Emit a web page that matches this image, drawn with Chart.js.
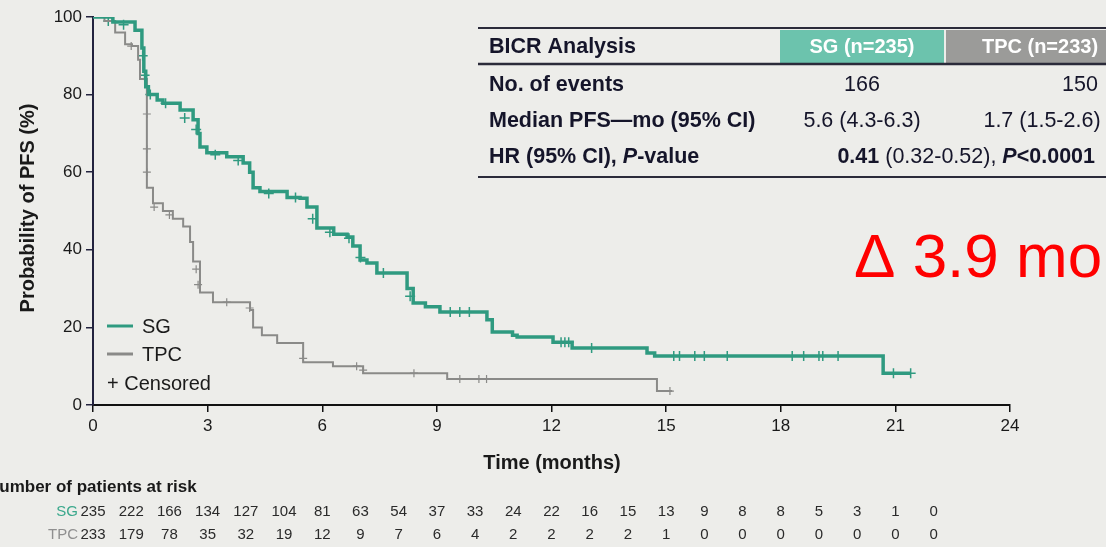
<!DOCTYPE html>
<html>
<head>
<meta charset="utf-8">
<script src="https://cdn.jsdelivr.net/npm/chart.js@4.4.1/dist/chart.umd.min.js"></script>
<style>
  html, body { margin: 0; padding: 0; background: #ededea; }
  #wrap { width: 1106px; height: 547px; position: relative; }
</style>
</head>
<body>
<div id="wrap"><canvas id="km"></canvas></div>
<script>
// KM step points (time in months, PFS %)
const sgTimes = [0, 0.52, 1.1, 1.28, 1.33, 1.38, 1.45, 1.68, 1.83, 2.28, 2.62, 2.75, 2.8, 2.98, 3.5, 3.93, 4.1, 4.19, 4.37, 5.08, 5.42, 5.6, 5.86, 6.3, 6.65, 6.8, 6.99, 7.17, 7.43, 8.22, 8.38, 8.7, 9.08, 10.31, 10.45, 10.98, 11.1, 12.04, 12.54, 14.5, 14.7, 20.68, 21.4];
const sgSurv  = [100, 98.7, 96.6, 92, 86, 82, 80, 78.6, 77.8, 76, 73.5, 70, 66.5, 65, 64, 62.4, 60, 56, 55, 53.5, 53.3, 51, 45.6, 44, 43.3, 41, 37.4, 36.6, 34, 30, 26.3, 25.3, 24, 22, 18.8, 18, 17.5, 16.2, 14.7, 13.4, 12.6, 8.2, 8.2];

const tpcTimes = [0, 0.3, 0.58, 0.84, 1.02, 1.18, 1.23, 1.41, 1.57, 1.83, 2.09, 2.36, 2.54, 2.62, 2.8, 3.14, 4.11, 4.19, 4.42, 4.82, 5.5, 6.28, 7.07, 9.27, 14.76, 15.16];
const tpcSurv  = [100, 99, 96, 93, 92.5, 89, 84, 56, 52, 50, 48, 46, 42, 37, 29, 26.5, 24.5, 20, 18, 16, 11, 10, 8.2, 6.7, 3.6, 3.6];

// censored marks
const sgCensorT = [0.4, 0.8, 1.3, 1.35, 1.5, 1.9, 2.4, 2.7, 3.2, 3.8, 4.6, 5.3, 5.75, 6.2, 6.7, 7.0, 7.6, 8.3, 9.35, 9.6, 9.85, 12.25, 12.35, 12.45, 13.05, 15.2, 15.35, 15.75, 16.0, 16.6, 18.3, 18.6, 19.0, 19.1, 19.5, 20.95, 21.4];
const sgCensorS = [99, 98, 90, 85, 80, 77.8, 74, 71, 64.5, 63, 54.5, 53.5, 48, 44.5, 43, 38, 34, 28, 24, 24, 24, 16.2, 16.2, 16.2, 14.7, 12.6, 12.6, 12.6, 12.6, 12.6, 12.6, 12.6, 12.6, 12.6, 12.6, 8.2, 8.2];
const tpcCensorT = [1.0, 1.41, 1.41, 1.41, 1.6, 2.0, 2.7, 2.75, 3.5, 4.1, 5.5, 6.9, 7.07, 8.4, 9.6, 10.1, 10.3, 15.1];
const tpcCensorS = [92.5, 75, 66, 60, 51, 49, 35, 31, 26.5, 25, 12, 10, 9, 8.2, 6.7, 6.7, 6.7, 3.6];

// number at risk, every month 0..22
const riskMonths = [0, 1, 2, 3, 4, 5, 6, 7, 8, 9, 10, 11, 12, 13, 14, 15, 16, 17, 18, 19, 20, 21, 22];
const sgAtRisk  = [235, 222, 166, 134, 127, 104, 81, 63, 54, 37, 33, 24, 22, 16, 15, 13, 9, 8, 8, 5, 3, 1, 0];
const tpcAtRisk = [233, 179, 78, 35, 32, 19, 12, 9, 7, 6, 4, 2, 2, 2, 2, 1, 0, 0, 0, 0, 0, 0, 0];

const SG_COLOR = "#2f9a80";
const TPC_COLOR = "#8a8a88";
const FONT = "'Liberation Sans', Arial, sans-serif";

const toPts = (xs, ys) => xs.map((x, i) => ({ x: x, y: ys[i] }));

const extras = {
  id: "extras",
  beforeDraw(chart) {
    const ctx = chart.ctx;
    ctx.save();
    ctx.fillStyle = "#ededea";
    ctx.fillRect(0, 0, chart.width, chart.height);
    ctx.restore();
  },
  afterDraw(chart) {
    const ctx = chart.ctx;
    const xs = chart.scales.x;
    const area = chart.chartArea;
    ctx.save();

    // y title
    ctx.fillStyle = "#1a1a1a";
    ctx.font = "bold 20px " + FONT;
    ctx.textAlign = "center";
    ctx.textBaseline = "middle";
    ctx.translate(28, 208);
    ctx.rotate(-Math.PI / 2);
    ctx.fillText("Probability of PFS (%)", 0, 0);
    ctx.setTransform(1, 0, 0, 1, 0, 0);

    // x title
    ctx.font = "bold 20px " + FONT;
    ctx.fillText("Time (months)", 552, 463);

    // legend
    ctx.textAlign = "left";
    ctx.font = "20px " + FONT;
    ctx.lineWidth = 3;
    ctx.strokeStyle = SG_COLOR;
    ctx.beginPath(); ctx.moveTo(107, 326); ctx.lineTo(133, 326); ctx.stroke();
    ctx.strokeStyle = TPC_COLOR;
    ctx.beginPath(); ctx.moveTo(107, 354); ctx.lineTo(133, 354); ctx.stroke();
    ctx.fillStyle = "#1a1a1a";
    ctx.fillText("SG", 142, 327);
    ctx.fillText("TPC", 142, 355);
    ctx.fillText("+ Censored", 107, 384);

    // risk table
    ctx.font = "bold 17px " + FONT;
    ctx.fillText("Number of patients at risk", -13, 487);
    ctx.font = "15px " + FONT;
    ctx.textAlign = "right";
    ctx.fillStyle = "#3aa88c";
    ctx.fillText("SG", 78, 512);
    ctx.fillStyle = "#8f8f8f";
    ctx.fillText("TPC", 78, 535);
    ctx.textAlign = "center";
    ctx.fillStyle = "#2a2a2a";
    riskMonths.forEach((m, i) => {
      const px = xs.getPixelForValue(m);
      ctx.fillText(String(sgAtRisk[i]), px, 512);
      ctx.fillText(String(tpcAtRisk[i]), px, 535);
    });

    // summary table
    ctx.fillStyle = "#6cc3ad";
    ctx.fillRect(780, 30, 164, 33);
    ctx.fillStyle = "#9b9b99";
    ctx.fillRect(946, 30, 160, 33);
    ctx.strokeStyle = "#2b2b3a";
    ctx.lineWidth = 2;
    ctx.beginPath(); ctx.moveTo(478, 28); ctx.lineTo(1106, 28); ctx.stroke();
    ctx.lineWidth = 2.5;
    ctx.beginPath(); ctx.moveTo(478, 64); ctx.lineTo(1106, 64); ctx.stroke();
    ctx.lineWidth = 2;
    ctx.beginPath(); ctx.moveTo(478, 177); ctx.lineTo(1106, 177); ctx.stroke();

    const TS = "21.5px ";
    ctx.font = "bold " + TS + FONT;
    ctx.textAlign = "left";
    ctx.fillStyle = "#15152a";
    ctx.fillText("BICR Analysis", 489, 47);
    ctx.fillText("No. of events", 489, 85);
    ctx.fillText("Median PFS\u2014mo (95% CI)", 489, 121);
    ctx.fillText("HR (95% CI), ", 489, 157);
    let w = ctx.measureText("HR (95% CI), ").width;
    ctx.font = "bold italic " + TS + FONT;
    ctx.fillText("P", 489 + w, 157);
    w += ctx.measureText("P").width;
    ctx.font = "bold " + TS + FONT;
    ctx.fillText("-value", 489 + w, 157);

    ctx.textAlign = "center";
    ctx.fillStyle = "#ffffff";
    ctx.font = "bold 20px " + FONT;
    ctx.fillText("SG (n=235)", 862, 47);
    ctx.fillText("TPC (n=233)", 1040, 47);

    ctx.font = TS + FONT;
    ctx.fillStyle = "#15152a";
    ctx.fillText("166", 862, 85);
    ctx.fillText("150", 1080, 85);
    ctx.fillText("5.6 (4.3-6.3)", 862, 121);
    ctx.fillText("1.7 (1.5-2.6)", 1042, 121);

    // HR line with mixed styles
    const parts = [
      ["bold ", "0.41"],
      ["", " (0.32-0.52), "],
      ["bold italic ", "P"],
      ["bold ", "<0.0001"]
    ];
    let total = 0;
    parts.forEach(p => { ctx.font = p[0] + TS + FONT; total += ctx.measureText(p[1]).width; });
    let x0 = 1095 - total;
    ctx.textAlign = "left";
    parts.forEach(p => {
      ctx.font = p[0] + TS + FONT;
      ctx.fillText(p[1], x0, 157);
      x0 += ctx.measureText(p[1]).width;
    });

    // delta annotation
    ctx.fillStyle = "#ff0000";
    ctx.font = "62px " + FONT;
    ctx.textBaseline = "alphabetic";
    ctx.fillText("\u0394 3.9 mo", 854, 277);

    ctx.restore();
  }
};

new Chart(document.getElementById("km"), {
  type: "line",
  data: {
    datasets: [
      {
        label: "SG",
        data: toPts(sgTimes, sgSurv),
        borderColor: SG_COLOR,
        borderWidth: 3.5,
        stepped: "before",
        pointRadius: 0,
        fill: false
      },
      {
        label: "TPC",
        data: toPts(tpcTimes, tpcSurv),
        borderColor: TPC_COLOR,
        borderWidth: 2,
        stepped: "before",
        pointRadius: 0,
        fill: false
      },
      {
        label: "SG censored",
        data: toPts(sgCensorT, sgCensorS),
        showLine: false,
        pointStyle: "cross",
        pointRadius: 5,
        borderColor: SG_COLOR,
        pointBorderWidth: 1.5
      },
      {
        label: "TPC censored",
        data: toPts(tpcCensorT, tpcCensorS),
        showLine: false,
        pointStyle: "cross",
        pointRadius: 4,
        borderColor: TPC_COLOR,
        pointBorderWidth: 1.2
      }
    ]
  },
  options: {
    responsive: true,
    maintainAspectRatio: false,
    animation: false,
    layout: { padding: { left: 0, right: 96, top: 17, bottom: 0 } },
    plugins: { legend: { display: false }, tooltip: { enabled: false } },
    scales: {
      x: {
        type: "linear",
        min: 0,
        max: 24,
        afterFit: (scale) => { scale.height = 142; },
        ticks: { stepSize: 3, color: "#1a1a1a", font: { size: 17, family: FONT }, padding: 4 },
        grid: { drawOnChartArea: false, drawTicks: true, tickLength: 7, color: "#111", lineWidth: 1.5 },
        border: { display: true, color: "#111", width: 2 }
      },
      y: {
        min: 0,
        max: 100,
        afterFit: (scale) => { scale.width = 93; },
        ticks: { stepSize: 20, color: "#1a1a1a", font: { size: 17, family: FONT }, padding: 4 },
        grid: { drawOnChartArea: false, drawTicks: true, tickLength: 7, color: "#23233f", lineWidth: 1.5 },
        border: { display: true, color: "#23233f", width: 2 }
      }
    }
  },
  plugins: [extras]
});
</script>
</body>
</html>
